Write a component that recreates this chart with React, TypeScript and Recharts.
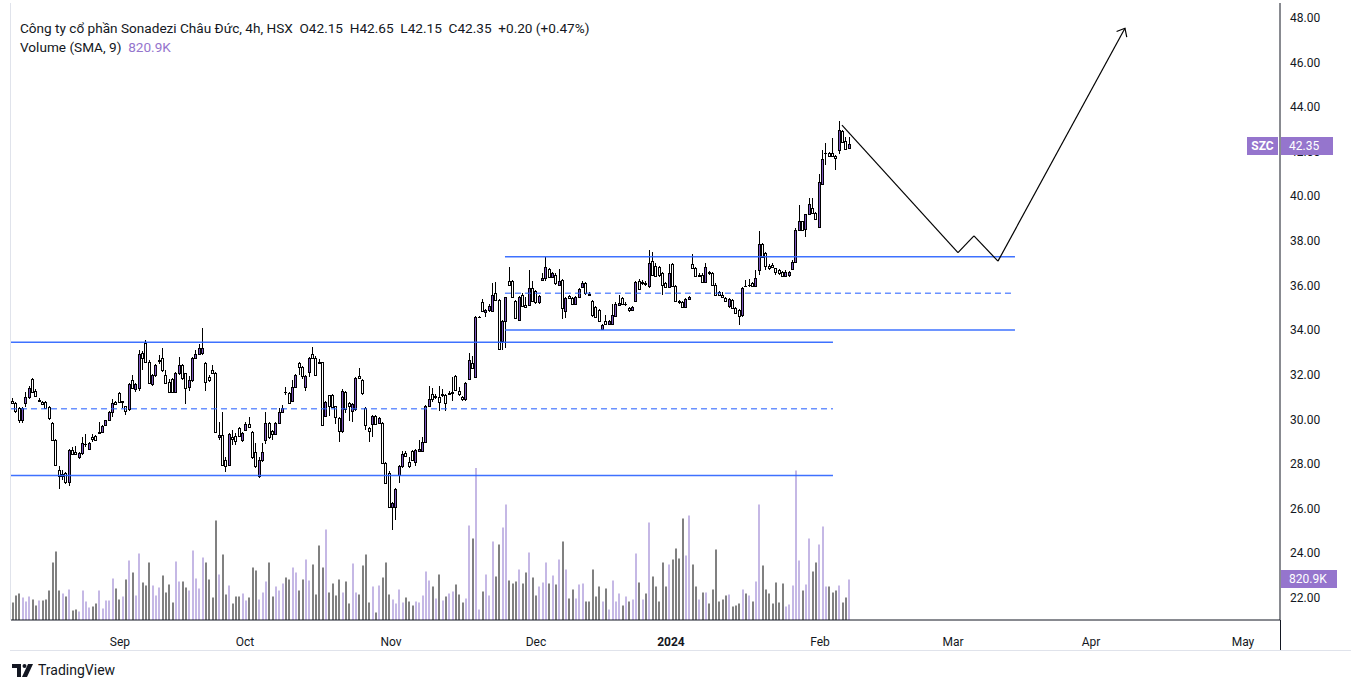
import { ComposedChart, Bar, XAxis, YAxis, ReferenceLine } from 'recharts'

type Candle = [number, number, number, number] // open, high, low, close

// SZC 4h candles, one array per month
const augCandles: Candle[] = [
  [30.85, 30.95, 30.68, 30.72], [30.75, 30.78, 30.28, 30.4], [30.5, 30.55, 29.85, 30.0], [30.0, 30.55, 29.85, 30.5],
  [30.75, 31.25, 30.55, 31.0], [31.0, 31.5, 30.9, 31.4], [31.8, 31.85, 31.2, 31.25], [31.3, 31.35, 31.0, 31.05],
  [30.85, 30.95, 30.8, 30.88], [30.8, 30.85, 30.68, 30.7], [30.8, 30.85, 30.45, 30.5], [30.55, 30.6, 30.0, 30.05],
  [29.85, 29.9, 29.1, 29.1], [29.1, 29.15, 27.9, 27.95], [27.75, 27.9, 26.9, 27.45], [27.45, 27.75, 27.3, 27.55],
  [27.6, 27.65, 27.1, 27.2], [27.2, 28.7, 27.0, 28.63], [28.63, 28.75, 28.4, 28.45], [28.55, 28.8, 28.4, 28.45],
  [28.3, 28.55, 28.25, 28.5], [28.5, 29.2, 28.4, 28.95], [28.9, 29.35, 28.75, 28.92], [28.7, 29.0, 28.65, 28.95],
  [29.2, 29.35, 29.0, 29.15], [29.25, 29.3, 29.05, 29.1], [29.38, 29.9, 29.35, 29.42], [29.45, 29.75, 29.4, 29.7],
  [29.75, 30.0, 29.7, 30.0], [30.0, 30.4, 29.95, 30.35], [30.35, 30.9, 30.1, 30.75], [30.8, 30.85, 30.65, 30.7],
]
const sepCandles: Candle[] = [
  [31.2, 31.25, 30.75, 30.8], [30.8, 30.85, 30.5, 30.82], [30.6, 30.6, 30.2, 30.4], [30.45, 31.65, 30.4, 31.6],
  [31.75, 32.0, 31.35, 31.4], [31.35, 31.65, 31.25, 31.6], [31.4, 33.1, 31.3, 32.95], [33.0, 33.05, 32.2, 32.75],
  [33.45, 33.55, 32.55, 32.6], [32.6, 32.65, 31.6, 31.65], [31.6, 32.05, 31.5, 32.0], [32.0, 32.5, 31.9, 32.45],
  [32.62, 32.9, 32.5, 32.68], [32.75, 33.2, 32.15, 32.2], [32.0, 32.2, 31.6, 31.65], [31.7, 31.8, 31.2, 31.25],
  [31.8, 31.85, 31.2, 31.25], [31.25, 32.15, 31.2, 32.1], [32.1, 32.8, 32.0, 32.45], [32.45, 32.5, 31.75, 31.85],
  [32.1, 32.1, 30.7, 31.4], [31.45, 31.95, 31.3, 31.75], [31.75, 32.8, 31.7, 32.75], [32.75, 33.1, 32.7, 32.95],
  [32.95, 33.4, 32.9, 33.2], [33.0, 34.1, 32.9, 33.2], [32.55, 32.6, 31.3, 31.7], [31.9, 32.0, 31.7, 31.75],
  [32.2, 32.45, 32.05, 32.1], [32.1, 32.15, 29.4, 29.45], [29.2, 29.9, 29.1, 29.3], [29.3, 30.35, 27.9, 27.95],
  [28.2, 28.3, 27.65, 27.9], [27.95, 29.4, 27.9, 29.35], [29.2, 29.55, 28.85, 29.15], [29.25, 29.4, 28.85, 29.05],
  [29.6, 29.65, 29.2, 29.25], [29.1, 29.45, 29.0, 29.4],
]
const octCandles: Candle[] = [
  [29.55, 29.9, 29.5, 29.8], [29.8, 30.1, 29.6, 29.65], [29.45, 29.5, 28.25, 28.3], [28.55, 28.95, 27.85, 27.9],
  [27.45, 28.3, 27.4, 28.2], [28.2, 28.95, 28.1, 28.55], [29.1, 30.35, 28.9, 29.85], [29.85, 29.9, 29.15, 29.2],
  [29.5, 29.55, 29.1, 29.35], [29.35, 29.9, 29.3, 29.85], [29.85, 30.5, 29.8, 30.35], [30.35, 30.65, 30.3, 30.5],
  [31.25, 31.45, 31.1, 31.22], [31.2, 31.25, 30.7, 30.75], [30.85, 31.75, 30.85, 31.45], [31.45, 32.05, 31.4, 32.0],
  [32.55, 32.6, 32.0, 32.35], [32.35, 32.4, 31.8, 31.95], [31.45, 32.0, 31.3, 31.95], [32.15, 32.8, 31.9, 32.75],
  [32.95, 33.25, 32.7, 32.75], [32.75, 32.85, 31.95, 32.0], [32.6, 32.7, 32.5, 32.55], [32.6, 32.6, 29.7, 29.75],
  [30.15, 30.85, 30.1, 30.8], [31.1, 31.1, 30.15, 30.6], [31.1, 31.15, 30.5, 30.55], [30.6, 30.6, 29.8, 30.1],
  [30.05, 30.1, 29.0, 29.5], [29.5, 31.35, 29.4, 31.3], [31.25, 31.3, 30.3, 30.45], [30.75, 30.8, 29.95, 30.6],
  [30.4, 30.75, 29.9, 30.7], [30.45, 31.9, 30.4, 31.85], [31.95, 32.3, 31.8, 31.85], [31.75, 31.8, 31.1, 31.2],
  [30.5, 30.55, 29.55, 29.75], [29.6, 29.65, 29.0, 29.5], [29.8, 30.2, 29.2, 30.15], [30.15, 30.2, 29.75, 29.8],
  [29.85, 30.1, 29.8, 30.05], [29.85, 29.9, 28.0, 28.05], [28.05, 28.1, 27.1, 27.15], [27.6, 27.7, 26.05, 26.1],
]
const novCandles: Candle[] = [
  [26.1, 26.3, 25.05, 26.25], [26.1, 26.95, 25.5, 26.9], [27.5, 27.95, 27.15, 27.9], [27.9, 28.6, 27.85, 28.45],
  [28.5, 28.6, 28.3, 28.35], [28.1, 28.3, 27.85, 27.9], [28.6, 28.65, 28.15, 28.2], [28.1, 28.7, 27.9, 28.65],
  [28.6, 29.1, 28.55, 28.7], [28.6, 29.2, 28.55, 29.0], [29.0, 30.65, 28.95, 30.6], [30.6, 31.5, 30.55, 30.9],
  [31.15, 31.4, 30.8, 30.9], [31.0, 31.15, 30.9, 31.05], [31.0, 31.5, 30.4, 30.8], [31.1, 31.35, 31.0, 31.15],
  [31.1, 31.15, 30.4, 30.75], [31.15, 31.3, 31.1, 31.2], [31.2, 31.9, 30.85, 31.25], [31.97, 32.0, 31.3, 31.32],
  [31.3, 31.45, 31.05, 31.15], [31.0, 31.05, 30.85, 30.9], [30.9, 31.7, 30.85, 31.65], [31.8, 33.0, 31.75, 32.65],
  [32.55, 32.85, 32.25, 32.3], [31.9, 34.65, 31.85, 34.6], [34.6, 34.64, 34.56, 34.6], [35.25, 35.4, 34.8, 34.85],
  [34.8, 34.95, 34.6, 34.9], [34.9, 35.2, 34.8, 35.1], [34.85, 36.1, 34.8, 35.6], [35.65, 36.15, 35.3, 35.35],
  [35.35, 35.4, 33.1, 33.15], [33.5, 34.45, 33.1, 34.4], [34.4, 35.5, 33.2, 35.5], [36.2, 36.85, 36.0, 36.05],
  [36.2, 36.25, 35.45, 35.5], [35.3, 35.35, 34.5, 34.55], [34.45, 35.55, 34.4, 35.5], [35.6, 35.65, 35.1, 35.1],
  [35.15, 35.5, 35.0, 35.05], [35.15, 36.7, 35.1, 35.9], [35.9, 36.2, 35.25, 35.3],
]
const decCandles: Candle[] = [
  [35.75, 35.8, 35.2, 35.25], [35.25, 35.6, 35.2, 35.55], [36.25, 36.55, 36.2, 36.35], [36.35, 37.3, 36.2, 36.85],
  [36.75, 36.8, 36.35, 36.4], [36.4, 36.6, 36.35, 36.55], [36.5, 36.55, 36.05, 36.1], [36.05, 36.75, 36.0, 36.2],
  [36.25, 36.3, 34.5, 35.0], [34.85, 35.5, 34.55, 35.45], [35.55, 35.6, 35.4, 35.45], [35.45, 35.5, 35.15, 35.2],
  [35.2, 35.55, 35.15, 35.5], [35.5, 35.9, 35.45, 35.85], [35.95, 36.2, 35.9, 36.1], [36.1, 36.15, 35.6, 35.65],
  [35.62, 35.7, 35.55, 35.6], [35.3, 35.35, 34.58, 34.7], [35.05, 35.1, 34.55, 34.6], [34.9, 34.95, 34.4, 34.42],
  [34.05, 34.3, 34.0, 34.25], [34.4, 34.7, 34.25, 34.3], [34.28, 34.45, 34.25, 34.4], [34.3, 35.2, 34.25, 34.68],
  [34.65, 35.25, 34.6, 35.2], [35.15, 35.6, 35.1, 35.22], [35.45, 35.5, 35.15, 35.2], [35.17, 35.25, 35.1, 35.2],
  [35.0, 35.05, 34.8, 34.9], [34.9, 35.1, 34.85, 35.05], [35.3, 36.2, 35.25, 36.15], [36.2, 36.3, 35.8, 35.85],
  [36.12, 36.25, 36.05, 36.15], [36.1, 36.2, 36.0, 36.08], [35.98, 37.6, 35.9, 37.0], [37.1, 37.5, 36.45, 36.5],
  [36.9, 37.0, 36.4, 36.45], [36.85, 36.9, 36.4, 36.5], [36.55, 36.6, 35.6, 36.05], [36.1, 36.15, 35.9, 35.95],
  [35.95, 36.97, 35.9, 36.55],
]
const janCandles: Candle[] = [
  [36.95, 37.0, 35.95, 35.98], [36.0, 36.05, 35.28, 35.3], [35.3, 35.35, 35.2, 35.25], [35.28, 35.3, 35.02, 35.05],
  [35.05, 35.45, 35.0, 35.4], [35.4, 35.55, 35.35, 35.5], [36.95, 37.4, 36.75, 36.8], [36.8, 36.85, 36.4, 36.45],
  [36.45, 36.55, 36.4, 36.5], [36.5, 36.55, 36.1, 36.15], [36.15, 37.0, 36.1, 36.85], [36.6, 36.65, 36.5, 36.55],
  [36.55, 36.6, 36.0, 36.05], [36.05, 36.1, 35.55, 35.6], [35.7, 35.75, 35.55, 35.6], [35.6, 35.7, 35.45, 35.5],
  [35.45, 35.5, 35.3, 35.33], [35.1, 35.45, 35.0, 35.4], [35.35, 35.4, 34.95, 35.0], [35.0, 35.05, 34.75, 34.78],
  [34.9, 34.95, 34.25, 34.65], [34.7, 35.95, 34.6, 35.9], [36.0, 36.25, 35.95, 35.97], [36.02, 36.3, 35.95, 36.05],
  [36.1, 36.15, 35.95, 35.97], [36.0, 36.7, 35.95, 36.35], [36.7, 38.45, 36.5, 37.85], [37.85, 37.9, 37.25, 37.3],
  [37.45, 37.5, 36.7, 36.88], [36.88, 36.95, 36.7, 36.78], [36.92, 37.0, 36.8, 36.82], [36.78, 36.8, 36.5, 36.63],
  [36.7, 36.75, 36.5, 36.55], [36.62, 36.65, 36.4, 36.45], [36.45, 36.7, 36.4, 36.6], [36.5, 36.65, 36.4, 36.63],
  [36.75, 37.15, 36.7, 37.05], [37.05, 38.6, 37.0, 38.5], [38.5, 39.6, 38.45, 38.88], [38.88, 38.9, 38.45, 38.5],
  [38.55, 39.2, 38.2, 39.2], [39.2, 39.95, 39.15, 39.65], [39.5, 39.95, 39.2, 39.25], [39.25, 39.3, 38.95, 38.98],
]
const febCandles: Candle[] = [
  [38.65, 41.0, 38.6, 40.65], [40.55, 42.1, 40.5, 41.67], [41.95, 42.4, 41.4, 41.97], [41.95, 42.0, 41.75, 41.8],
  [41.95, 42.6, 41.75, 41.8], [41.8, 41.85, 41.2, 41.72], [42.1, 43.4, 41.9, 42.98], [42.95, 43.0, 42.4, 42.45],
  [42.5, 42.65, 42.1, 42.12], [42.15, 42.65, 42.15, 42.35],
]

// volume, thousands of shares
const augVolume = [350, 490, 530, 450, 370, 470, 410, 290, 390, 390, 410, 590, 1150, 1370, 590, 530, 470, 610, 190, 210, 170, 590, 370, 250, 270, 330, 590, 230, 390, 390, 830, 630]
const sepVolume = [410, 470, 810, 1190, 950, 490, 1330, 750, 690, 1150, 690, 490, 650, 890, 550, 710, 350, 1170, 770, 770, 650, 590, 1390, 830, 630, 1250, 1150, 810, 450, 1990, 910, 1310, 510, 690, 330, 470, 470, 530]
const octVolume = [390, 450, 1050, 990, 410, 550, 770, 1150, 470, 670, 590, 730, 850, 810, 1050, 950, 590, 810, 1210, 790, 1110, 510, 1490, 1050, 1810, 550, 730, 490, 810, 550, 770, 330, 1130, 550, 510, 1090, 1310, 350, 670, 150, 690, 850, 1150, 510]
const novVolume = [410, 330, 610, 350, 450, 370, 290, 370, 350, 490, 970, 790, 670, 430, 910, 390, 470, 530, 570, 710, 510, 350, 430, 1890, 1630, 3040, 210, 570, 910, 490, 1570, 870, 1510, 1850, 2310, 790, 730, 770, 1010, 730, 950, 1350, 850]
const decVolume = [490, 670, 750, 1150, 730, 890, 710, 1210, 1570, 1010, 430, 610, 430, 710, 730, 370, 370, 1010, 470, 670, 370, 630, 210, 790, 370, 530, 290, 470, 370, 410, 1330, 750, 410, 530, 1950, 870, 670, 370, 1150, 670, 1110]
const janVolume = [1210, 1430, 1230, 2030, 1290, 2090, 1110, 670, 410, 550, 550, 330, 610, 1410, 370, 410, 490, 510, 270, 290, 330, 610, 530, 490, 370, 770, 2310, 1090, 610, 530, 330, 750, 350, 730, 270, 310, 690, 2990, 1190, 590, 710, 1630, 970, 1150]
const febVolume = [1510, 1870, 670, 670, 550, 590, 690, 350, 450, 810]

const candles = [...augCandles, ...sepCandles, ...octCandles, ...novCandles, ...decCandles, ...janCandles, ...febCandles]
const volumes = [...augVolume, ...sepVolume, ...octVolume, ...novVolume, ...decVolume, ...janVolume, ...febVolume]

// time axis: bar index of each month start (future months on the same spacing)
const monthTicks = [32.3, 69.8, 113.6, 157.1, 197.6, 242.3, 282.2, 323.6, 369.2]
const monthNames = ['Sep', 'Oct', 'Nov', 'Dec', '2024', 'Feb', 'Mar', 'Apr', 'May']
const priceTicks = [22, 24, 26, 28, 30, 32, 34, 36, 38, 40, 42, 44, 46, 48]

// drawn levels: old range (Aug-Nov) and new range (Dec-Jan)
const oldRange = [33.47, 30.48, 27.49]
const newRange = [37.3, 35.66, 34.01]
const oldRangeSpan = [-0.39, 246.2]
const newRangeSpan = [147.8, 300.8]
// forecast path
const pathIdx = [248.9, 283.7, 288.5, 295.7, 333.8]
const pathPrice = [43.2, 37.48, 38.23, 37.1, 47.54]

const lastClose = 42.35
const volSma = 820.9

const W = 1351
const PLOT_TOP = 3
const PLOT_BOTTOM = 620
const PLOT_RIGHT = 1280
const X_MIN = -0.39
const X_MAX = 380.31
const PRICE_MIN = 21.014
const PRICE_MAX = 48.672
const VOL_MAX = 12340

const TEXT = '#131722'
const UP = '#7e57c2'
const VOL_UP = '#c5b8e5'
const VOL_DOWN = '#808080'
const LEVEL = '#2962ff'
const TAG = '#9575cd'
const FONT = 'Roboto, "Noto Sans", sans-serif'

const data = candles.map(([o, h, l, c], i) => ({ i, o, h, l, c, range: [l, h], vol: volumes[i] }))

const priceY = (p: number) => PLOT_TOP + ((PRICE_MAX - p) / (PRICE_MAX - PRICE_MIN)) * (PLOT_BOTTOM - PLOT_TOP)
const volY = (v: number) => PLOT_BOTTOM - (v / VOL_MAX) * (PLOT_BOTTOM - PLOT_TOP)

function CandleShape(props: any) {
  const { x, y, width, height, payload } = props
  const { o, h, l, c } = payload
  const cx = Math.round(x + width / 2)
  const top = Math.min(y, y + height)
  const span = Math.abs(height)
  const yOf = (v: number) => (h === l ? top : top + ((h - v) / (h - l)) * span)
  const bTop = Math.round(yOf(Math.max(o, c)))
  const bBot = Math.round(yOf(Math.min(o, c)))
  const fill = c >= o ? UP : '#ffffff'
  return (
    <g>
      <line x1={cx + 0.5} x2={cx + 0.5} y1={Math.round(top)} y2={Math.round(top + span)} stroke="#000" strokeWidth={1} />
      {bBot - bTop >= 1 ? (
        <rect x={cx - 0.5} y={bTop + 0.5} width={2} height={bBot - bTop} fill={fill} stroke="#000" strokeWidth={1} />
      ) : (
        <line x1={cx - 1} x2={cx + 2} y1={bTop + 0.5} y2={bTop + 0.5} stroke="#000" strokeWidth={1} />
      )}
    </g>
  )
}

function VolumeShape(props: any) {
  const { x, y, width, height, payload } = props
  const cx = Math.round(x + width / 2)
  return <rect x={cx - 1} y={y} width={2} height={Math.max(height, 0)} fill={payload.c >= payload.o ? VOL_UP : VOL_DOWN} />
}

function MonthTick({ x, y, payload }: any) {
  const label = monthNames[monthTicks.indexOf(payload.value)]
  return (
    <text x={x} y={y + 18} textAnchor="middle" fontSize={12} fontFamily={FONT} fill={TEXT} fontWeight={label === '2024' ? 700 : 400}>
      {label}
    </text>
  )
}

function PriceTick({ y, payload }: any) {
  return (
    <text x={PLOT_RIGHT + 10} y={y + 4} textAnchor="start" fontSize={12} fontFamily={FONT} fill={TEXT}>
      {payload.value.toFixed(2)}
    </text>
  )
}

function ArrowLine(props: any) {
  const { x1, y1, x2, y2 } = props
  const a = Math.atan2(y1 - y2, x1 - x2)
  const len = 9
  const p1 = [x2 + len * Math.cos(a + 0.7), y2 + len * Math.sin(a + 0.7)]
  const p2 = [x2 + len * Math.cos(a - 0.7), y2 + len * Math.sin(a - 0.7)]
  return (
    <g>
      <line x1={x1} y1={y1} x2={x2} y2={y2} stroke="#000" strokeWidth={1.2} />
      <path d={`M${p1[0]},${p1[1]} L${x2},${y2} L${p2[0]},${p2[1]}`} fill="none" stroke="#000" strokeWidth={1.2} />
    </g>
  )
}

export default function App() {
  const tagTop = priceY(lastClose) - 7
  const volTop = volY(volSma) - 9
  return (
    <div style={{ position: 'absolute', left: 0, top: 0, width: W, height: 690, background: '#fff', fontFamily: FONT, color: TEXT }}>
      <ComposedChart width={W} height={650} data={data} margin={{ top: PLOT_TOP, right: 0, bottom: 0, left: 11 }}>
        <XAxis
          xAxisId="x"
          type="number"
          dataKey="i"
          domain={[X_MIN, X_MAX]}
          allowDataOverflow
          ticks={monthTicks}
          interval={0}
          tick={<MonthTick />}
          tickLine={false}
          axisLine={{ stroke: TEXT }}
          height={30}
        />
        <XAxis xAxisId="xv" type="number" dataKey="i" domain={[X_MIN, X_MAX]} allowDataOverflow hide />
        <YAxis
          yAxisId="price"
          orientation="right"
          type="number"
          domain={[PRICE_MIN, PRICE_MAX]}
          allowDataOverflow
          ticks={priceTicks}
          interval={0}
          tick={<PriceTick />}
          tickLine={false}
          axisLine={{ stroke: TEXT }}
          width={71}
        />
        <YAxis yAxisId="vol" type="number" domain={[0, VOL_MAX]} allowDataOverflow hide />

        <Bar xAxisId="xv" yAxisId="vol" dataKey="vol" barSize={2} shape={<VolumeShape />} isAnimationActive={false} />

        {oldRange.map((p, k) => (
          <ReferenceLine
            key={`o${k}`}
            xAxisId="x"
            yAxisId="price"
            segment={[{ x: oldRangeSpan[0], y: p }, { x: oldRangeSpan[1], y: p }]}
            stroke={LEVEL}
            strokeOpacity={k === 1 ? 0.7 : 0.9}
            strokeWidth={1.5}
            strokeDasharray={k === 1 ? '6 4' : undefined}
            ifOverflow="extendDomain"
          />
        ))}
        {newRange.map((p, k) => (
          <ReferenceLine
            key={`n${k}`}
            xAxisId="x"
            yAxisId="price"
            segment={[{ x: newRangeSpan[0], y: p }, { x: newRangeSpan[1], y: p }]}
            stroke={LEVEL}
            strokeOpacity={k === 1 ? 0.7 : 0.9}
            strokeWidth={1.5}
            strokeDasharray={k === 1 ? '6 4' : undefined}
            ifOverflow="extendDomain"
          />
        ))}

        <Bar xAxisId="x" yAxisId="price" dataKey="range" barSize={3} shape={<CandleShape />} isAnimationActive={false} />

        {pathIdx.slice(0, -1).map((x0, k) => (
          <ReferenceLine
            key={`z${k}`}
            xAxisId="x"
            yAxisId="price"
            segment={[{ x: x0, y: pathPrice[k] }, { x: pathIdx[k + 1], y: pathPrice[k + 1] }]}
            stroke="#000"
            strokeWidth={1.2}
            shape={k === pathIdx.length - 2 ? ArrowLine : undefined}
          />
        ))}
      </ComposedChart>

      {/* pane frame */}
      <div style={{ position: 'absolute', left: 10, top: PLOT_TOP, width: 1, height: 617, background: '#e0e3eb' }} />
      <div style={{ position: 'absolute', left: 10, top: 650, width: W - 10, height: 1, background: '#e0e3eb' }} />
      <div style={{ position: 'absolute', left: PLOT_RIGHT, top: 620, width: 1, height: 30, background: TEXT }} />

      {/* legend */}
      <div style={{ position: 'absolute', left: 20, top: 19, fontSize: 13.6, lineHeight: '18px', whiteSpace: 'pre' }}>
        {'Công ty cổ phần Sonadezi Châu Đức, 4h, HSX  O42.15  H42.65  L42.15  C42.35  +0.20 (+0.47%)'}
      </div>
      <div style={{ position: 'absolute', left: 20, top: 38, fontSize: 13.6, lineHeight: '18px', whiteSpace: 'pre' }}>
        {'Volume (SMA, 9)  '}
        <span style={{ color: TAG }}>820.9K</span>
      </div>

      {/* last value tags */}
      <div style={{ position: 'absolute', left: 1247, top: tagTop, width: 31, height: 18, background: TAG, color: '#fff', fontSize: 12, fontWeight: 700, lineHeight: '18px', textAlign: 'center' }}>
        SZC
      </div>
      <div style={{ position: 'absolute', left: 1281, top: tagTop, width: 52, height: 18, background: TAG, color: '#fff', fontSize: 12, lineHeight: '18px', paddingLeft: 8, boxSizing: 'border-box' }}>
        42.35
      </div>
      <div style={{ position: 'absolute', left: 1281, top: volTop, width: 56, height: 18, background: TAG, color: '#fff', fontSize: 12, lineHeight: '18px', paddingLeft: 8, boxSizing: 'border-box' }}>
        820.9K
      </div>

      {/* footer logo */}
      <div style={{ position: 'absolute', left: 12, top: 661, display: 'flex', alignItems: 'center', gap: 4 }}>
        <svg width={22} height={13} viewBox="0 0 22 13">
          <path d="M0 0 H9 V13 H5 V4 H0 Z" fill={TEXT} />
          <circle cx={12.5} cy={2} r={2} fill={TEXT} />
          <path d="M16 0 H21 L15 13 H10 Z" fill={TEXT} />
        </svg>
        <span style={{ fontSize: 14, lineHeight: '18px' }}>TradingView</span>
      </div>
    </div>
  )
}
